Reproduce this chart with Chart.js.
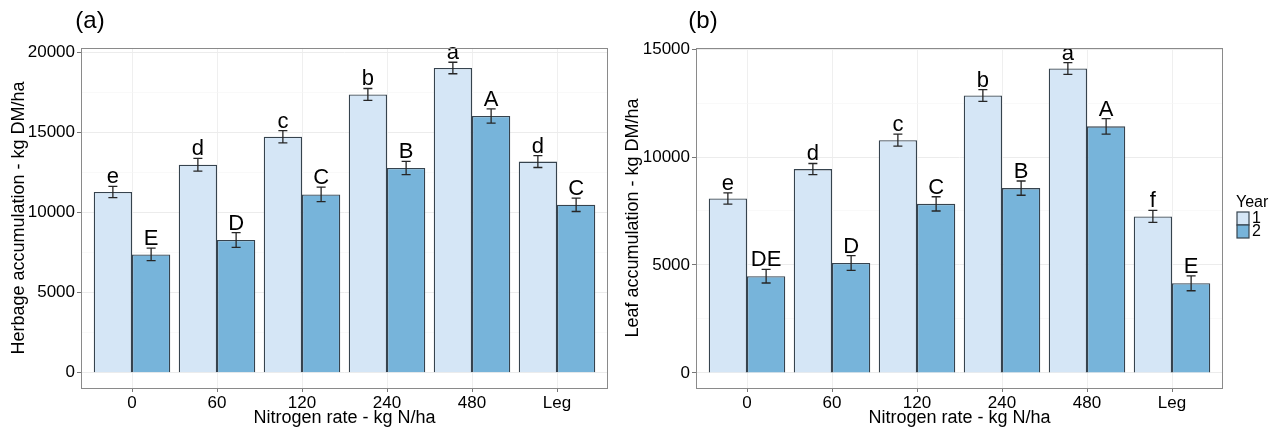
<!DOCTYPE html>
<html>
<head>
<meta charset="utf-8">
<script src="https://cdn.jsdelivr.net/npm/chart.js@4.4.1/dist/chart.umd.min.js"></script>
<style>
  body { margin: 0; background: #fff; width: 1282px; height: 433px; overflow: hidden; position: relative; }
  canvas { position: absolute; top: 0; }
  #ca { left: 0; }
  #cb { left: 610px; }
</style>
</head>
<body>
<canvas id="ca" width="610" height="433"></canvas>
<canvas id="cb" width="672" height="433"></canvas>
<script>
// Nitrogen rate categories
const categories = ['0', '60', '120', '240', '480', 'Leg']
const years = ['1', '2']

// (a) Herbage accumulation, kg DM/ha
const herbageYear1 = [11300, 13000, 14750, 17400, 19050, 13200]
const herbageYear2 = [7400, 8300, 11150, 12800, 16050, 10500]
const herbageErr1 = [350, 400, 380, 370, 360, 370]
const herbageErr2 = [390, 460, 450, 420, 450, 420]
const herbageLetters1 = ['e', 'd', 'c', 'b', 'a', 'd']
const herbageLetters2 = ['E', 'D', 'C', 'B', 'A', 'C']
const herbageTicks = [0, 2500, 5000, 7500, 10000, 12500, 15000, 17500, 20000]

// (b) Leaf accumulation, kg DM/ha
const leafYear1 = [8080, 9440, 10780, 12850, 14100, 7250]
const leafYear2 = [4480, 5090, 7830, 8560, 11420, 4150]
const leafErr1 = [260, 260, 280, 270, 270, 280]
const leafErr2 = [315, 340, 330, 330, 355, 345]
const leafLetters1 = ['e', 'd', 'c', 'b', 'a', 'f']
const leafLetters2 = ['DE', 'D', 'C', 'B', 'A', 'E']
const leafTicks = [0, 2500, 5000, 7500, 10000, 12500, 15000]

const LIGHT = '#d5e6f6'
const DARK = '#77b4da'
const EDGE = '#36434e'
const FONT = '"Liberation Sans", Arial, sans-serif'

// error bars + significance letters above each bar
const annotate = {
  id: 'annotate',
  afterDatasetsDraw(chart) {
    const ctx = chart.ctx
    const y = chart.scales.y
    ctx.save()
    chart.data.datasets.forEach((ds, di) => {
      const meta = chart.getDatasetMeta(di)
      meta.data.forEach((bar, i) => {
        const v = ds.data[i].y
        const e = ds.errors[i]
        const top = y.getPixelForValue(v + e)
        const bot = y.getPixelForValue(v - e)
        ctx.strokeStyle = '#262626'
        ctx.lineWidth = 1.3
        ctx.beginPath()
        ctx.moveTo(bar.x, top); ctx.lineTo(bar.x, bot)
        ctx.moveTo(bar.x - 4.5, top); ctx.lineTo(bar.x + 4.5, top)
        ctx.moveTo(bar.x - 4.5, bot); ctx.lineTo(bar.x + 4.5, bot)
        ctx.stroke()
        ctx.fillStyle = '#000'
        ctx.font = '22px ' + FONT
        ctx.textAlign = 'center'
        ctx.textBaseline = 'alphabetic'
        ctx.fillText(ds.letters[i], bar.x, top - 3)
      })
    })
    // panel border
    const a = chart.chartArea
    ctx.strokeStyle = '#8a8a8a'
    ctx.lineWidth = 1
    ctx.strokeRect(a.left + 0.5, a.top + 0.5, a.right - a.left - 1, a.bottom - a.top)
    // panel tag
    const o = chart.options.plugins.annotate
    ctx.fillStyle = '#000'
    ctx.font = '24px ' + FONT
    ctx.textAlign = 'center'
    ctx.textBaseline = 'middle'
    ctx.fillText(o.tag, o.tagX, 21)
    if (o.legend) {
      const lx = o.legendX
      ctx.font = '16px ' + FONT
      ctx.textAlign = 'left'
      ctx.fillText('Year', lx - 1, 203)
      chart.data.datasets.forEach((ds, di) => {
        const by = 212 + di * 13
        ctx.fillStyle = ds.backgroundColor
        ctx.fillRect(lx, by, 12, 13)
        ctx.strokeStyle = EDGE
        ctx.lineWidth = 1.2
        ctx.strokeRect(lx, by, 12, 13)
        ctx.fillStyle = '#000'
        ctx.fillText(ds.label, lx + 15, by + 7)
      })
    }
    ctx.restore()
  }
}

function makeChart(id, cfg) {
  const major = c => c.tick && c.tick.value % 5000 === 0
  return new Chart(document.getElementById(id), {
    type: 'bar',
    data: {
      datasets: [
        {
          label: years[0],
          data: cfg.y1.map((v, i) => ({ x: i, y: v })),
          errors: cfg.e1, letters: cfg.l1,
          backgroundColor: LIGHT, borderColor: EDGE, borderWidth: 1.3,
          categoryPercentage: 0.9, barPercentage: 1.0
        },
        {
          label: years[1],
          data: cfg.y2.map((v, i) => ({ x: i, y: v })),
          errors: cfg.e2, letters: cfg.l2,
          backgroundColor: DARK, borderColor: EDGE, borderWidth: 1.3,
          categoryPercentage: 0.9, barPercentage: 1.0
        }
      ]
    },
    options: {
      responsive: false,
      animation: false,
      layout: { padding: { left: 0, top: 48, right: cfg.padRight, bottom: 0 } },
      plugins: {
        legend: { display: false },
        tooltip: { enabled: false },
        annotate: { tag: cfg.tag, tagX: cfg.tagX, legend: cfg.legend, legendX: cfg.legendX }
      },
      scales: {
        x: {
          type: 'linear',
          min: -0.6,
          max: 5.6,
          offset: false,
          afterBuildTicks: s => { s.ticks = categories.map((c, i) => ({ value: i })) },
          afterFit: s => { s.height = 45 },
          ticks: {
            autoSkip: false,
            maxRotation: 0,
            padding: 1,
            color: '#000',
            font: { family: FONT, size: 17 },
            callback: v => categories[v]
          },
          grid: { offset: false, color: '#efefef', tickColor: '#777', tickLength: 4 },
          border: { display: false },
          title: {
            display: true,
            text: 'Nitrogen rate - kg N/ha',
            color: '#000',
            font: { family: FONT, size: 18 },
            padding: { top: 0, bottom: 4 }
          }
        },
        y: {
          min: cfg.ymin,
          max: cfg.ymax,
          afterBuildTicks: s => { s.ticks = cfg.ticks.map(v => ({ value: v })) },
          afterFit: s => { s.width = cfg.yWidth },
          ticks: {
            autoSkip: false,
            padding: 2,
            color: '#000',
            font: { family: FONT, size: 17 },
            callback: v => (v % 5000 === 0 ? v : '')
          },
          grid: {
            color: c => (major(c) ? '#ececec' : '#f5f5f5'),
            lineWidth: c => (major(c) ? 1 : 0.6),
            tickColor: c => (major(c) ? '#777' : 'rgba(0,0,0,0)'),
            tickLength: 4
          },
          border: { display: false },
          title: {
            display: true,
            text: cfg.ytitle,
            color: '#000',
            font: { family: FONT, size: 18 },
            padding: { top: cfg.titlePad, bottom: 0 }
          }
        }
      }
    },
    plugins: [annotate]
  })
}

makeChart('ca', {
  y1: herbageYear1, y2: herbageYear2, e1: herbageErr1, e2: herbageErr2,
  l1: herbageLetters1, l2: herbageLetters2, ticks: herbageTicks,
  ymin: -950, ymax: 20300, yWidth: 81, padRight: 2, titlePad: 8,
  ytitle: 'Herbage accumulation - kg DM/ha', tag: '(a)', tagX: 90, legend: false
})

makeChart('cb', {
  y1: leafYear1, y2: leafYear2, e1: leafErr1, e2: leafErr2,
  l1: leafLetters1, l2: leafLetters2, ticks: leafTicks,
  ymin: -700, ymax: 15050, yWidth: 86, padRight: 59, titlePad: 12,
  ytitle: 'Leaf accumulation - kg DM/ha', tag: '(b)', tagX: 93, legend: true, legendX: 627
})
</script>
</body>
</html>
